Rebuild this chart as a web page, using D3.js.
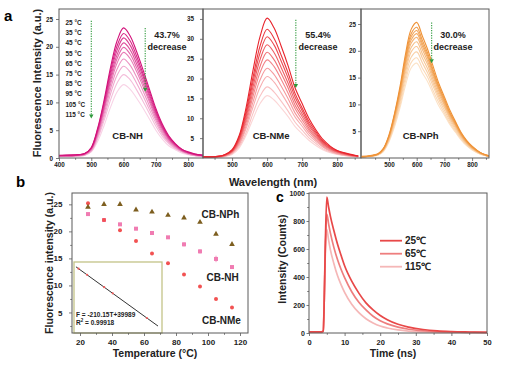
<!DOCTYPE html>
<html><head><meta charset="utf-8">
<script src="https://cdn.jsdelivr.net/npm/d3@7"></script>
<style>body{margin:0;background:#fff}</style>
</head><body><svg id="c" width="510" height="366"></svg>
<script>
// ---------------- DATA ----------------
const temps = [25,35,45,55,65,75,85,95,105,115];
const wavelengths = [400,460,480,500,520,540,560,580,600,620,640,660,680,700,720,740,760,780,800,830,860];
// Emission spectra, one row per temperature (25 -> 115 °C)
const specNH = [
 [0.5,0.6,0.8,1.9,5.4,10.5,16.4,21.1,23.4,22.0,19.2,15.9,12.4,8.9,6.1,4.0,2.6,1.6,1.1,0.6,0.5],
 [0.4,0.6,0.8,1.8,5.2,10.1,15.7,20.2,22.4,21.1,18.4,15.2,11.9,8.5,5.8,3.8,2.5,1.6,1.0,0.6,0.4],
 [0.4,0.5,0.8,1.7,5.0,9.7,15.1,19.4,21.6,20.3,17.7,14.7,11.4,8.2,5.6,3.7,2.4,1.5,1.0,0.5,0.4],
 [0.4,0.5,0.7,1.7,4.8,9.3,14.5,18.6,20.7,19.5,17.0,14.1,11.0,7.9,5.4,3.5,2.3,1.4,0.9,0.5,0.4],
 [0.4,0.5,0.7,1.6,4.6,9.0,13.9,17.9,19.9,18.7,16.3,13.5,10.5,7.6,5.2,3.4,2.2,1.4,0.9,0.5,0.4],
 [0.4,0.5,0.7,1.5,4.4,8.6,13.3,17.1,19.0,17.9,15.6,12.9,10.1,7.2,4.9,3.2,2.1,1.3,0.9,0.5,0.4],
 [0.4,0.4,0.6,1.4,4.1,8.0,12.5,16.0,17.8,16.7,14.6,12.1,9.4,6.8,4.6,3.0,2.0,1.2,0.8,0.4,0.4],
 [0.3,0.4,0.6,1.3,3.8,7.4,11.6,14.9,16.5,15.5,13.5,11.2,8.7,6.3,4.3,2.8,1.8,1.2,0.7,0.4,0.3],
 [0.3,0.4,0.5,1.2,3.5,6.8,10.5,13.5,15.0,14.1,12.3,10.2,8.0,5.7,3.9,2.6,1.7,1.1,0.7,0.4,0.3],
 [0.3,0.3,0.5,1.1,3.0,5.9,9.2,11.9,13.2,12.4,10.8,9.0,7.0,5.0,3.4,2.2,1.5,0.9,0.6,0.3,0.3]
];
const specNMe = [
 [0.3,0.4,0.9,2.1,5.6,12.7,22.2,30.6,35.2,32.7,28.2,23.2,17.6,13.7,9.9,7.0,4.6,3.0,1.9,1.1,0.5],
 [0.3,0.4,0.8,1.9,5.2,11.7,20.4,28.2,32.4,30.1,25.9,21.4,16.2,12.6,9.1,6.5,4.2,2.8,1.8,1.0,0.5],
 [0.2,0.4,0.8,1.8,4.9,11.0,19.2,26.5,30.5,28.4,24.4,20.1,15.3,11.9,8.5,6.1,4.0,2.6,1.7,0.9,0.5],
 [0.2,0.3,0.7,1.7,4.6,10.3,18.0,24.8,28.5,26.5,22.8,18.8,14.3,11.1,8.0,5.7,3.7,2.4,1.6,0.9,0.4],
 [0.2,0.3,0.7,1.6,4.3,9.6,16.8,23.1,26.6,24.7,21.3,17.6,13.3,10.4,7.4,5.3,3.5,2.3,1.5,0.8,0.4],
 [0.2,0.3,0.6,1.5,4.0,8.9,15.6,21.5,24.7,23.0,19.8,16.3,12.4,9.6,6.9,4.9,3.2,2.1,1.4,0.7,0.4],
 [0.2,0.3,0.6,1.4,3.6,8.1,14.2,19.7,22.6,21.0,18.1,14.9,11.3,8.8,6.3,4.5,2.9,1.9,1.2,0.7,0.3],
 [0.2,0.2,0.5,1.2,3.3,7.4,12.9,17.8,20.5,19.1,16.4,13.5,10.3,8.0,5.7,4.1,2.7,1.7,1.1,0.6,0.3],
 [0.1,0.2,0.4,1.1,2.9,6.4,11.3,15.6,17.9,16.6,14.3,11.8,9.0,7.0,5.0,3.6,2.3,1.5,1.0,0.5,0.3],
 [0.1,0.2,0.4,0.9,2.5,5.7,9.9,13.7,15.7,14.6,12.6,10.4,7.9,6.1,4.4,3.1,2.0,1.3,0.9,0.5,0.2]
];
const specNPh = [
 [0.3,0.8,1.8,4.3,8.3,13.4,19.5,24.0,25.3,22.8,20.2,17.0,13.9,11.4,8.9,6.8,4.8,3.3,2.2,1.0,0.4],
 [0.2,0.7,1.7,4.1,8.1,12.9,18.8,23.2,24.4,22.0,19.5,16.3,13.4,11.0,8.5,6.6,4.6,3.2,2.1,1.0,0.4],
 [0.2,0.7,1.7,4.0,7.9,12.6,18.3,22.6,23.8,21.4,19.0,15.9,13.1,10.7,8.3,6.4,4.5,3.1,2.0,1.0,0.4],
 [0.2,0.7,1.6,3.9,7.7,12.3,17.9,22.0,23.2,20.9,18.6,15.5,12.8,10.4,8.1,6.3,4.4,3.0,2.0,0.9,0.3],
 [0.2,0.7,1.6,3.8,7.4,11.9,17.3,21.4,22.5,20.3,18.0,15.1,12.4,10.1,7.9,6.1,4.3,2.9,1.9,0.9,0.3],
 [0.2,0.7,1.5,3.7,7.2,11.5,16.7,20.6,21.7,19.5,17.4,14.5,11.9,9.8,7.6,5.9,4.1,2.8,1.8,0.9,0.3],
 [0.2,0.6,1.5,3.5,6.9,11.0,16.0,19.8,20.8,18.7,16.6,13.9,11.4,9.4,7.3,5.6,4.0,2.7,1.8,0.8,0.3],
 [0.2,0.6,1.4,3.4,6.5,10.5,15.2,18.8,19.8,17.8,15.8,13.3,10.9,8.9,6.9,5.3,3.8,2.6,1.7,0.8,0.3],
 [0.2,0.6,1.3,3.2,6.2,9.9,14.4,17.8,18.7,16.8,15.0,12.5,10.3,8.4,6.5,5.0,3.6,2.4,1.6,0.7,0.3],
 [0.2,0.5,1.2,3.0,5.8,9.4,13.6,16.8,17.7,15.9,14.2,11.9,9.7,8.0,6.2,4.8,3.4,2.3,1.5,0.7,0.3]
];
const decreaseLabels = ["43.7%","55.4%","30.0%"];
// panel b: peak intensity vs temperature
const intNPh = [24.5,25.0,25.0,24.0,23.6,23.0,22.5,21.7,19.5,17.6];
const intNH  = [23.2,22.1,21.3,20.5,19.7,18.9,17.6,16.3,14.9,13.4];
const errNH  = [0.3,0.2,0.3,0.3,0.2,0.2,0.4,0.4,0.6,0.3];
const intNMe = [25.2,22.1,20.2,18.2,15.9,14.1,12.0,9.8,7.5,5.9];
// inset: linear fit F = -210.15T + 39989
const fitSlope = -210.15, fitIntercept = 39989;
const insetT = [25,35,55,65,105];
const insetF = [34735,32634,28431,26329,17923];
// panel c: fluorescence decay
const decayTime = [0,2,3.5,4,4.3,4.6,5,5.5,6,7,8,9,10,12,14,16,18,20,22,25,28,32,36,40,45,50];
const decay25  = [8,8,8,15,250,650,970,900,835,730,635,555,480,370,285,215,165,125,95,62,42,25,15,10,7,5];
const decay65  = [6,6,6,12,250,600,850,780,715,610,525,455,395,295,220,165,120,88,65,42,27,16,10,7,5,4];
const decay115 = [5,5,5,10,300,620,740,665,595,495,410,345,290,205,145,102,72,50,36,22,14,8,5,4,3,2];
const decayLabels = ["25℃","65℃","115℃"];

// ---------------- DRAW ----------------
const FONT = '"Liberation Sans", Arial, Helvetica, sans-serif';
const svg = d3.select("#c").attr("font-family", FONT);
const AX = "#5a5a5a";

function styleAxis(sel, fs) {
  sel.select(".domain").remove();
  sel.selectAll(".tick line").attr("stroke", AX).attr("stroke-width", 0.8);
  sel.selectAll(".tick text").attr("font-size", fs).attr("font-weight", "bold")
     .attr("fill", "#222").attr("font-family", FONT);
}
function axes(g, x, y, c) {
  const yb = y.range()[0], xl = x.range()[0];
  const bx = g.append("g").attr("transform", `translate(0,${yb})`)
    .call(d3.axisBottom(x).tickValues(c.xt).tickSize(3).tickPadding(c.xpad).tickFormat(d3.format("d")));
  styleAxis(bx, c.xfs);
  if (c.xm) styleAxis(g.append("g").attr("transform", `translate(0,${yb})`)
    .call(d3.axisBottom(x).tickValues(c.xm).tickSize(1.8).tickFormat("")), c.xfs);
  const ly = g.append("g").attr("transform", `translate(${xl},0)`)
    .call(d3.axisLeft(y).tickValues(c.yt).tickSize(c.ytick || 3).tickPadding(c.ypad).tickFormat(d3.format("d")));
  styleAxis(ly, c.yfs);
  if (c.ym) styleAxis(g.append("g").attr("transform", `translate(${xl},0)`)
    .call(d3.axisLeft(y).tickValues(c.ym).tickSize(1.8).tickFormat("")), c.yfs);
}
function frame(g, x, y) {
  g.append("rect").attr("x", x.range()[0]).attr("y", y.range()[1])
    .attr("width", x.range()[1] - x.range()[0]).attr("height", y.range()[0] - y.range()[1])
    .attr("fill", "none").attr("stroke", AX).attr("stroke-width", 1);
}

// ---------- panel a ----------
const A_TOP = 9, A_BOT = 158;
const panelsA = [
  {data: specNH,  name: "CB-NH",  r: [59,203],  xd: [400,846], yd: [0,26.8], xt: [400,500,600,700,800], yt: [0,5,10,15,20,25],
   dark: "#d3117a", light: "#f8d3e6", ypad: 3, arrow: {wl: 667, from: 23.4, to: 11.9}, txt: 167},
  {data: specNMe, name: "CB-NMe", r: [203,361], xd: [417,868], yd: [0,37.5], xt: [500,600,700,800], yt: [5,10,15,20,25,30,35],
   dark: "#e8232b", light: "#fbd6d6", ypad: 6, arrow: {wl: 682, from: 34.8, to: 17.6}, txt: 318},
  {data: specNPh, name: "CB-NPh", r: [361,489], xd: [399,861], yd: [0,27.8], xt: [500,600,700,800], yt: [5,10,15,20,25],
   dark: "#ef9236", light: "#fce3c8", ypad: 2, arrow: {wl: 654, from: 25.3, to: 17.7}, txt: 453}
];
const gA = svg.append("g");
const defs = svg.append("defs");
panelsA.forEach((p, pi) => {
  const x = d3.scaleLinear().domain(p.xd).range(p.r);
  const y = d3.scaleLinear().domain(p.yd).range([A_BOT, A_TOP]);
  const g = gA.append("g");
  defs.append("clipPath").attr("id", "clipA" + pi).append("rect")
    .attr("x", p.r[0]).attr("y", A_TOP).attr("width", p.r[1] - p.r[0]).attr("height", A_BOT - A_TOP);
  const col = d3.interpolateRgb(p.dark, p.light);
  const line = d3.line().x((d, i) => x(wavelengths[i])).y(d => y(d)).curve(d3.curveCatmullRom.alpha(0.5));
  const cg = g.append("g").attr("clip-path", `url(#clipA${pi})`);
  for (let k = p.data.length - 1; k >= 0; k--) {
    cg.append("path").attr("d", line(p.data[k])).attr("fill", "none")
      .attr("stroke", col(k / (p.data.length - 1))).attr("stroke-width", 1.1);
  }
  const minor = d3.range(Math.ceil(p.xd[0] / 50) * 50, p.xd[1], 50).filter(v => v % 100 !== 0);
  axes(g, x, y, {xt: p.xt, xm: minor, xfs: 6.3, xpad: 1.5, yt: p.yt, yfs: 6.3, ypad: p.ypad});
  frame(g, x, y);
  // arrow
  const ax = x(p.arrow.wl), ay0 = y(p.arrow.from), ay1 = y(p.arrow.to);
  g.append("line").attr("x1", ax).attr("x2", ax).attr("y1", ay0).attr("y2", ay1 - 3)
    .attr("stroke", "#2f9a3c").attr("stroke-width", 1.1).attr("stroke-dasharray", "1.3,1.2");
  g.append("path").attr("d", `M${ax-2.2},${ay1-4}L${ax+2.2},${ay1-4}L${ax},${ay1}Z`).attr("fill", "#2f9a3c");
  g.append("text").attr("x", p.txt).attr("y", 37.5).attr("text-anchor", "middle")
    .attr("font-size", 9).attr("font-weight", "bold").attr("fill", "#222").text(decreaseLabels[pi]);
  g.append("text").attr("x", p.txt).attr("y", 49.5).attr("text-anchor", "middle")
    .attr("font-size", 9).attr("font-weight", "bold").attr("fill", "#222").text("decrease");
  g.append("text").attr("x", x(600) + 4).attr("y", 139).attr("text-anchor", "middle")
    .attr("font-size", 9.5).attr("font-weight", "bold").attr("fill", "#222").text(p.name);
  if (pi === 0) {
    temps.forEach((t, i) => {
      g.append("text").attr("x", 65.5).attr("y", 25 + i * 10.2).attr("font-size", 6.4)
        .attr("font-weight", "bold").attr("fill", "#222").text(t + " °C");
    });
    const tx = x(500);
    g.append("line").attr("x1", tx).attr("x2", tx).attr("y1", y(24.7)).attr("y2", y(7.1) - 3)
      .attr("stroke", "#2f9a3c").attr("stroke-width", 1.1).attr("stroke-dasharray", "1.3,1.2");
    g.append("path").attr("d", `M${tx-2.2},${y(7.1)-4}L${tx+2.2},${y(7.1)-4}L${tx},${y(7.1)}Z`).attr("fill", "#2f9a3c");
  }
});
svg.append("text").attr("x", 4).attr("y", 21).attr("font-size", 15).attr("font-weight", "bold").text("a");
svg.append("text").attr("transform", "translate(41,83) rotate(-90)").attr("text-anchor", "middle")
  .attr("font-size", 11).attr("font-weight", "bold").attr("fill", "#222").text("Fluorescence Intensity (a.u.)");
svg.append("text").attr("x", 273).attr("y", 185.5).attr("text-anchor", "middle")
  .attr("font-size", 11).attr("font-weight", "bold").attr("fill", "#222").text("Wavelength (nm)");

// ---------- panel b ----------
{
  const x = d3.scaleLinear().domain([15, 125]).range([72, 248]);
  const y = d3.scaleLinear().domain([1.2, 27.1]).range([333, 193]);
  const g = svg.append("g");
  // inset
  const ix = d3.scaleLinear().domain([19.7, 122.7]).range([74, 162]);
  const iy = d3.scaleLinear().domain([13500, 37000]).range([331, 262]);
  g.append("rect").attr("x", 74).attr("y", 262).attr("width", 88).attr("height", 71)
    .attr("fill", "#fff").attr("stroke", "#c3c387").attr("stroke-width", 1.3);
  g.append("line").attr("x1", ix(22)).attr("y1", iy(fitSlope * 22 + fitIntercept))
    .attr("x2", ix(118)).attr("y2", iy(fitSlope * 118 + fitIntercept)).attr("stroke", "#333").attr("stroke-width", 1);
  g.selectAll(".idot").data(insetT).enter().append("circle")
    .attr("cx", d => ix(d)).attr("cy", (d, i) => iy(insetF[i])).attr("r", 1.1).attr("fill", "#f05a5a");
  g.append("text").attr("x", 76).attr("y", 316.5).attr("font-size", 6.5).attr("font-weight", "bold").attr("fill", "#222")
    .text("F = -210.15T+39989");
  const r2 = g.append("text").attr("x", 76).attr("y", 324.5).attr("font-size", 6.5).attr("font-weight", "bold").attr("fill", "#222");
  r2.append("tspan").text("R");
  r2.append("tspan").attr("font-size", 4.5).attr("dy", -2.5).text("2");
  r2.append("tspan").attr("dy", 2.5).text(" = 0.99918");

  axes(g, x, y, {xt: [20,40,60,80,100,120], xm: [30,50,70,90,110], xfs: 8, xpad: 3.2,
                 yt: [5,10,15,20,25], ym: [2.5,7.5,12.5,17.5,22.5], yfs: 8, ypad: 6.5});
  frame(g, x, y);
  g.selectAll(".eb").data(temps).enter().append("line")
    .attr("x1", d => x(d)).attr("x2", d => x(d))
    .attr("y1", (d, i) => y(intNH[i] - errNH[i])).attr("y2", (d, i) => y(intNH[i] + errNH[i]))
    .attr("stroke", "#f3a0c4").attr("stroke-width", 1);
  g.selectAll(".sq").data(temps).enter().append("rect")
    .attr("x", d => x(d) - 2).attr("y", (d, i) => y(intNH[i]) - 2).attr("width", 4).attr("height", 4)
    .attr("fill", "#f07cb2");
  g.selectAll(".ci").data(temps).enter().append("circle")
    .attr("cx", d => x(d)).attr("cy", (d, i) => y(intNMe[i])).attr("r", 2).attr("fill", "#f25252");
  const tri = d3.symbol().type(d3.symbolTriangle).size(14);
  g.selectAll(".tr").data(temps).enter().append("path")
    .attr("d", tri).attr("transform", (d, i) => `translate(${x(d)},${y(intNPh[i])})`).attr("fill", "#7d5e1f");
  const lab = (t, xx, yy) => g.append("text").attr("x", xx).attr("y", yy).attr("font-size", 10)
    .attr("font-weight", "bold").attr("fill", "#222").text(t);
  lab("CB-NPh", 201.5, 218); lab("CB-NH", 206.5, 281); lab("CB-NMe", 202, 323.5);
  svg.append("text").attr("x", 16).attr("y", 187).attr("font-size", 15).attr("font-weight", "bold").text("b");
  svg.append("text").attr("transform", "translate(52.5,263) rotate(-90)").attr("text-anchor", "middle")
    .attr("font-size", 10.5).attr("font-weight", "bold").attr("fill", "#222").text("Fluorescence intensity (a.u.)");
  svg.append("text").attr("x", 155).attr("y", 357).attr("text-anchor", "middle")
    .attr("font-size", 10.5).attr("font-weight", "bold").attr("fill", "#222").text("Temperature (°C)");
}

// ---------- panel c ----------
{
  const x = d3.scaleLinear().domain([0, 50]).range([309, 487]);
  const y = d3.scaleLinear().domain([0, 1000]).range([333, 193]);
  const g = svg.append("g");
  const series = [decay115, decay65, decay25];
  const cols = ["#f5b7b7", "#ee7e7e", "#e84848"];
  const line = d3.line().x((d, i) => x(decayTime[i])).y(d => y(d)).curve(d3.curveMonotoneX);
  series.forEach((s, i) => g.append("path").attr("d", line(s)).attr("fill", "none")
    .attr("stroke", cols[i]).attr("stroke-width", 1.7));
  axes(g, x, y, {xt: [0,10,20,30,40,50], xm: [5,15,25,35,45], xfs: 7.5, xpad: 3.5,
                 yt: [0,200,400,600,800,1000], ym: [100,300,500,700,900], yfs: 7, ypad: 1.5, ytick: 2.5});
  frame(g, x, y);
  const lc = ["#e84848", "#ee7e7e", "#f5b7b7"];
  decayLabels.forEach((t, i) => {
    const yy = 240.7 + i * 13;
    g.append("line").attr("x1", 380).attr("x2", 402).attr("y1", yy).attr("y2", yy).attr("stroke", lc[i]).attr("stroke-width", 1.8);
    g.append("text").attr("x", 405).attr("y", yy + 3.6).attr("font-size", 10).attr("font-weight", "bold").attr("fill", "#222").text(t);
  });
  svg.append("text").attr("x", 276).attr("y", 202).attr("font-size", 14).attr("font-weight", "bold").text("c");
  svg.append("text").attr("transform", "translate(286,259) rotate(-90)").attr("text-anchor", "middle")
    .attr("font-size", 10.5).attr("font-weight", "bold").attr("fill", "#222").text("Intensity (Counts)");
  svg.append("text").attr("x", 393).attr("y", 357).attr("text-anchor", "middle")
    .attr("font-size", 10.5).attr("font-weight", "bold").attr("fill", "#222").text("Time (ns)");
}
</script></body></html>
